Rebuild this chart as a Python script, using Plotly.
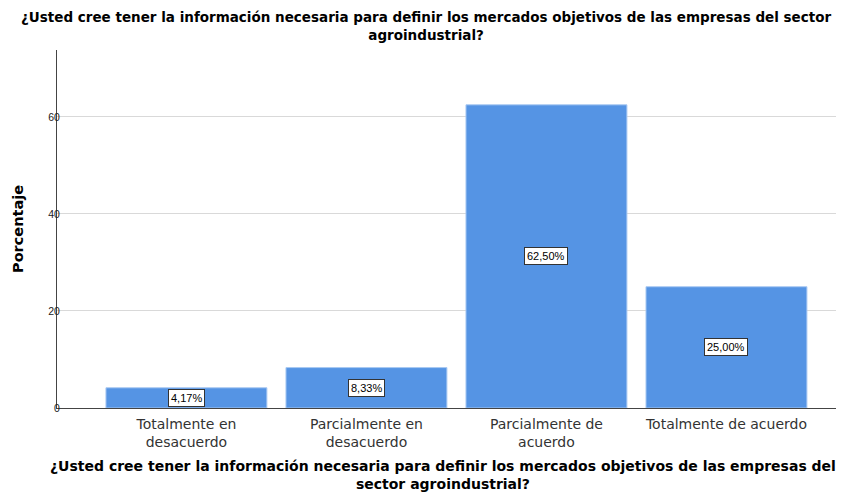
import plotly.graph_objects as go

categories = ["Totalmente en<br>desacuerdo", "Parcialmente en<br>desacuerdo",
              "Parcialmente de<br>acuerdo", "Totalmente de acuerdo"]
values = [4.17, 8.33, 62.50, 25.00]
value_labels = ["4,17%", "8,33%", "62,50%", "25,00%"]
y_ticks = [0, 20, 40, 60]

title_text = ("¿Usted cree tener la información necesaria para definir los mercados objetivos "
              "de las empresas del sector<br>agroindustrial?")
xtitle_text = ("¿Usted cree tener la información necesaria para definir los mercados objetivos "
               "de las empresas del<br>sector agroindustrial?")
ytitle = "Porcentaje"

FONT = "DejaVu Sans, Liberation Sans, Arial"
SMALL = "Liberation Sans, Arial"


def bold(s):
    return "<b>" + s.replace("<br>", "</b><br><b>") + "</b>"


fig = go.Figure(go.Bar(
    x=list(range(len(categories))), y=values,
    width=0.894,
    marker=dict(color="#5594E4", line=dict(color="#A9C9F2", width=1)),
    hoverinfo="skip",
))

for i, (v, lab) in enumerate(zip(values, value_labels)):
    fig.add_annotation(x=i, y=v / 2, text=lab, showarrow=False,
                       font=dict(family=SMALL, size=11, color="#000"),
                       bgcolor="white", bordercolor="#333", borderwidth=1, borderpad=2)

# chart title
fig.add_annotation(text=bold(title_text), xref="paper", yref="paper",
                   x=0.469, y=1, xanchor="center", yanchor="bottom",
                   yshift=5, showarrow=False,
                   font=dict(family=FONT, size=13.5, color="#000"))
# x-axis title
fig.add_annotation(text=bold(xtitle_text), xref="paper", yref="paper",
                   x=0.49, y=0, xanchor="center", yanchor="middle",
                   yshift=-67, showarrow=False,
                   font=dict(family=FONT, size=14, color="#000"))
# y-axis title
fig.add_annotation(text="<b>" + ytitle + "</b>", xref="paper", yref="paper",
                   x=0, y=0.5, xanchor="center", yanchor="middle", xshift=-39,
                   textangle=-90, showarrow=False,
                   font=dict(family=FONT, size=14.5, color="#000"))

fig.update_layout(
    width=836, height=486,
    margin=dict(l=49, r=0, t=42, b=86),
    paper_bgcolor="white", plot_bgcolor="white",
    showlegend=False,
    font=dict(family=FONT),
)

fig.update_xaxes(
    range=[-0.719, 3.653], automargin=False,
    tickmode="array", tickvals=list(range(len(categories))), ticktext=categories,
    tickfont=dict(family=FONT, size=14, color="#333"),
    ticklabelstandoff=3,
    showline=True, linecolor="#444", linewidth=1,
    showgrid=False, ticks="", zeroline=False,
)
fig.update_yaxes(
    range=[0, 73.8], automargin=False,
    tickmode="array", tickvals=y_ticks,
    tickfont=dict(family=SMALL, size=10.5, color="#222"),
    ticklabelstandoff=-6,
    showline=True, linecolor="#444", linewidth=1,
    showgrid=True, gridcolor="#D9D9D9", gridwidth=1,
    zeroline=False, ticks="",
)

fig.write_html("out.html")
